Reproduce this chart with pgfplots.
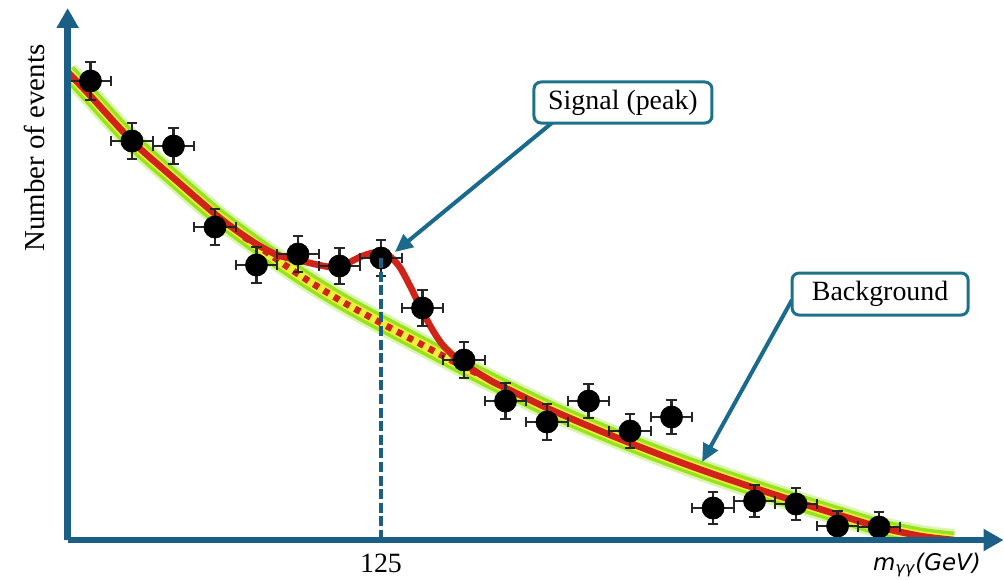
\documentclass[border=0pt]{standalone}
\usepackage{fontspec}
\setmainfont{Liberation Serif}
\newfontfamily\labelsans{DejaVu Sans}
\usepackage{pgfplots}
\usepackage{pgfplotstable}
\pgfplotsset{compat=1.18}
\usetikzlibrary{arrows.meta}
\definecolor{axisblue}{HTML}{1B5F86}
\definecolor{boxteal}{HTML}{1C7388}
\definecolor{arrowblue}{HTML}{1A6A8E}
\definecolor{bandgreen}{HTML}{98E21E}
\definecolor{bandyellow}{HTML}{ECF03A}
\definecolor{fitred}{HTML}{D0231A}

\pgfplotstableread{
x y
109.9 468
111 444
113 399
115 362
117 326
119 295
121 266
123 240
125 217
127 195
129 173
131 152
133 132
135 114
137 97
139 81
141 66
143 52
145 38.5
147 25.5
149 13
151 4
152.6 0
}\bgcurve

\pgfplotstableread{
x y
118.4 303
119 295
121 266
123 240
125 217
127 195
129 173
129.8 165
}\bgdotted

\pgfplotstableread{
x y
109.9 468
111 444
113 399
115 362
117 326
118 310
119 296
120 285
121 280
122 275
122.7 273
123.4 277
124.1 284
124.85 288
125.4 284
125.9 273
126.4 254
126.9 233
127.4 213
127.9 197
128.4 186
128.9 178
129.6 168
130.4 158
131 152
133 132
135 114
137 97
139 81
141 66
143 52
145 38.5
147 25.5
149 13
151 4
152.6 0
}\sigcurve

\begin{document}
\begin{tikzpicture}
\begin{axis}[
  x=10.375bp, y=0.5bp,
  xmin=109.9, xmax=155.0, ymin=0, ymax=532,
  axis lines=left,
  axis on top,
  axis line style={draw=axisblue, line width=3.2bp, -{Triangle[length=10bp,width=10.5bp]}},
  xtick={125}, xticklabels={125},
  ytick=\empty,
  major tick length=0pt,
  xticklabel style={font=\fontsize{14}{16}\selectfont, anchor=center, yshift=-11.75bp},
  clip mode=individual,
]
% band
\addplot[draw=bandgreen!45, line width=11bp, smooth, opacity=0.8] table {\bgcurve};
\addplot[draw=bandgreen, line width=8.4bp, smooth] table {\bgcurve};
\addplot[draw=bandyellow, line width=5bp, smooth] table {\bgcurve};
% background only (dotted)
\addplot[draw=fitred, line width=3.3bp, dash pattern=on 3bp off 3bp, smooth] table {\bgdotted};
% signal + background
\addplot[draw=fitred, line width=3.3bp, smooth] table {\sigcurve};
% data
\addplot[only marks, mark=*, mark size=5.5bp, black,
  error bars/.cd, x dir=both, x explicit, y dir=both, y explicit,
  error bar style={line width=1.1bp, draw=black!85},
  error mark options={rotate=90, line width=1.1bp, mark size=2.6bp, draw=black!85}]
coordinates {
(111,459) +- (1,19)
(113,399) +- (1,18)
(115,394) +- (1,18)
(117,313) +- (1,18)
(119,275) +- (1,18)
(121,286) +- (1,18)
(123,274) +- (1,18)
(125,282) +- (1,18)
(127,232) +- (1,18)
(129,180) +- (1,18)
(131,139) +- (1,18)
(133,118) +- (1,18)
(135,139) +- (1,17)
(137,109) +- (1,17)
(139,123) +- (1,17)
(141,32) +- (1,16)
(143,39) +- (1,16)
(145,36) +- (1,16)
(147,14) +- (1,15)
(149,13) +- (1,15)
};
% dashed line at 125
\addplot[draw=axisblue, line width=1.6bp, dash pattern=on 5bp off 1.8bp] coordinates {(125,282) (125,0)};

% annotations
\draw[arrowblue, line width=2bp, -{Triangle[length=9bp,width=8bp]}] (axis cs:133.29,418) -- (axis cs:125.67,288);
\node[draw=boxteal, line width=1.5bp, rounded corners=3.5bp, fill=white, minimum width=89bp, minimum height=20.5bp, inner sep=0pt, font=\fontsize{14}{16}\selectfont] at (axis cs:136.66,437.5) {Signal (peak)};
\draw[arrowblue, line width=2bp, -{Triangle[length=9bp,width=8bp]}] (axis cs:144.8,240) -- (axis cs:140.47,78);
\node[draw=boxteal, line width=1.5bp, rounded corners=3.5bp, fill=white, minimum width=88bp, minimum height=21bp, inner sep=0pt, font=\fontsize{14}{16}\selectfont] at (axis cs:149.05,246) {Background};

\node[rotate=90, font=\fontsize{14.5}{17}\selectfont, inner sep=0pt] at (axis cs:108.28,392) {Number of events};
\node[font=\labelsans\itshape\fontsize{11.5}{13}\selectfont, inner sep=0pt] at (axis cs:151.31,-25) {m\textsubscript{γγ}(GeV)};

\coordinate (bbBL) at (axis cs:106.64,-39);
\coordinate (bbTR) at (axis cs:155.02,540);
\end{axis}
\pgfresetboundingbox
\path (bbBL) rectangle (bbTR);
\end{tikzpicture}
\end{document}
